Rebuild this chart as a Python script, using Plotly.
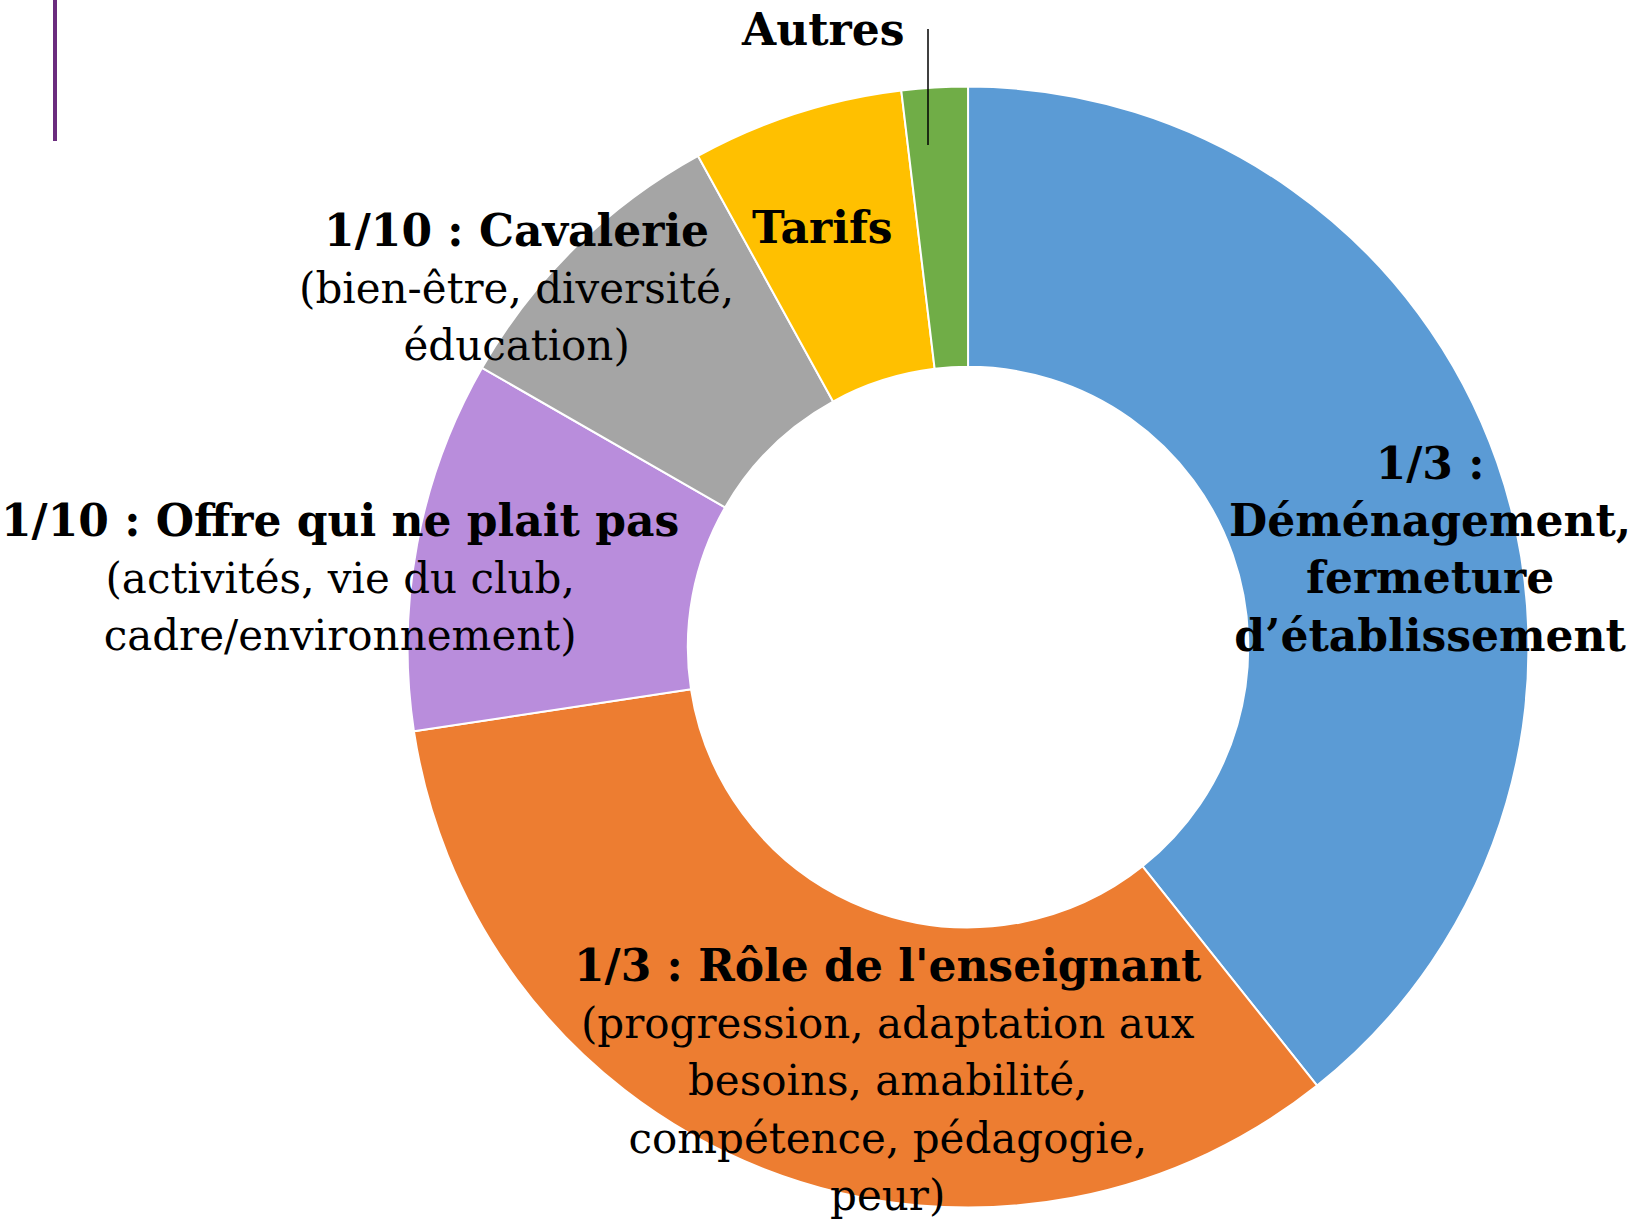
import plotly.graph_objects as go

# Data
categories = ["Déménagement, fermeture d’établissement", "Rôle de l'enseignant",
              "Offre qui ne plait pas", "Cavalerie", "Tarifs", "Autres"]
values = [39.3, 33.3, 10.7, 8.7, 6.1, 1.9]
colors = ["#5B9BD5", "#ED7D31", "#B98DDC", "#A5A5A5", "#FFC000", "#70AD47"]

W, H = 1637, 1220
FONT = "DejaVu Serif"
FS = 44

fig = go.Figure(go.Pie(
    labels=categories, values=values, sort=False, direction="clockwise",
    rotation=0, hole=0.5, textinfo="none", hoverinfo="label+percent",
    marker=dict(colors=colors, line=dict(color="white", width=2)),
    domain=dict(x=[0.2487, 0.934], y=[0.0102, 0.929]),
    showlegend=False,
))

def px(x, y):
    return x / W, 1 - y / H

def reg(t):
    return '<span style="font-size:42px">' + t + '</span>'

def add_label(text, x, y, size=FS):
    xp, yp = px(x, y)
    fig.add_annotation(text=text, x=xp, y=yp, xref="paper", yref="paper",
                       xanchor="center", yanchor="middle", showarrow=False,
                       align="center", font=dict(family=FONT, size=size, color="black"))

add_label("<b>Autres</b>", 822, 29)
add_label("<b>Tarifs</b>", 822, 227)
add_label("<b>1/10 : Cavalerie</b><br>" + reg("(bien-être, diversité,") + "<br>" + reg("éducation)"), 516, 288)
add_label("<b>1/10 : Offre qui ne plait pas</b><br>" + reg("(activités, vie du club,") + "<br>"
          + reg("cadre/environnement)"), 340, 577)
add_label("<b>1/3 :<br>Déménagement,<br>fermeture<br>d’établissement</b>", 1430, 549)
add_label("<b>1/3 : Rôle de l'enseignant</b><br>" + reg("(progression, adaptation aux") + "<br>"
          + reg("besoins, amabilité,") + "<br>" + reg("compétence, pédagogie,") + "<br>" + reg("peur)"),
          888, 1080)

# leader line for Autres
fig.add_shape(type="line", xref="paper", yref="paper",
              x0=928 / W, x1=928 / W, y0=1 - 29 / H, y1=1 - 145 / H,
              line=dict(color="black", width=1.5))
# purple decorative bar
fig.add_shape(type="line", xref="paper", yref="paper",
              x0=55 / W, x1=55 / W, y0=1, y1=1 - 141 / H,
              line=dict(color="#6B2C7E", width=4))

fig.update_layout(width=W, height=H, margin=dict(l=0, r=0, t=0, b=0),
                  paper_bgcolor="white", plot_bgcolor="white")
fig.write_html("out.html", config={"displayModeBar": False},
               post_script="document.body.style.margin='0';")
